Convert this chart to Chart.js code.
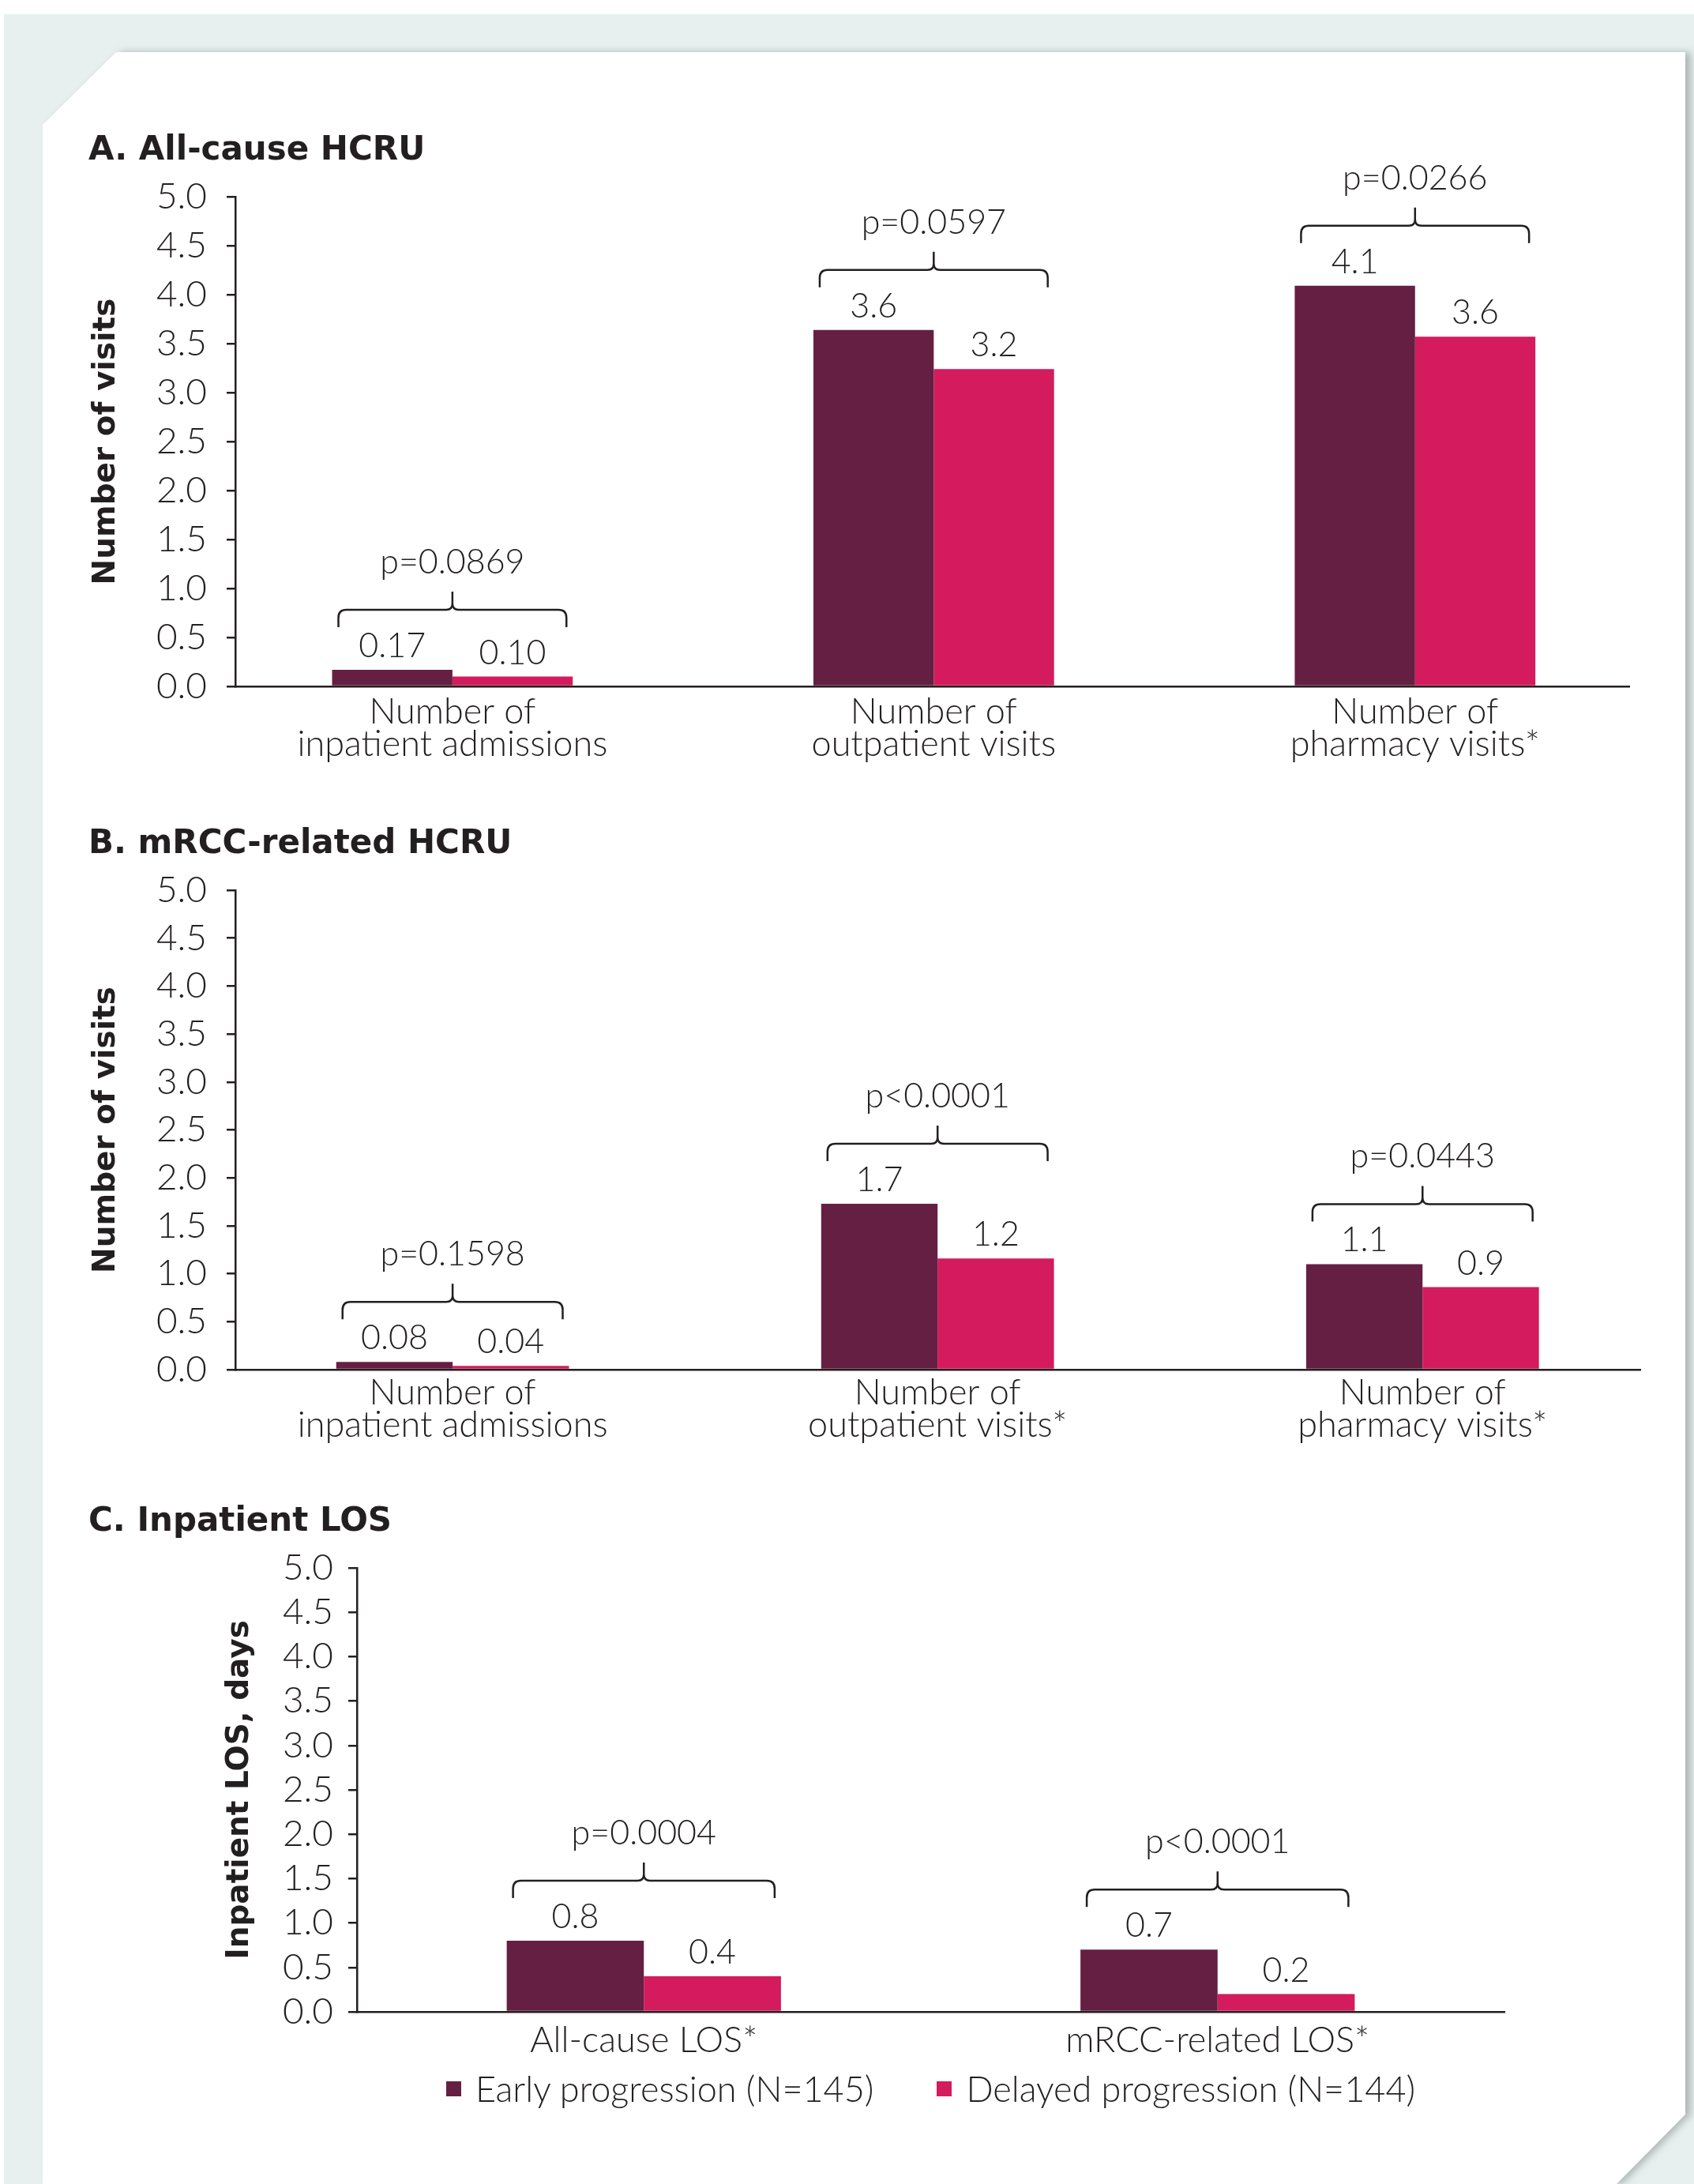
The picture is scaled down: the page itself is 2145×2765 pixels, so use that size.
<!DOCTYPE html>
<html lang="en">
<head>
<meta charset="UTF-8">
<title>HCRU and LOS by progression group</title>
<script src="https://cdn.jsdelivr.net/npm/chart.js"></script>
<style>
  html, body { margin: 0; padding: 0; background: #fff; }
  body { width: 2145px; height: 2765px; position: relative; overflow: hidden; }
  .backdrop { position: absolute; left: 5px; top: 18px; right: 0; bottom: 0; background: #e7f0ef; }
  .sheet-wrap { position: absolute; left: 0; top: 0; width: 2145px; height: 2765px;
    filter: drop-shadow(7px 0 5px rgba(70, 80, 80, 0.35)); }
  .sheet { position: absolute; left: 0; top: 0; width: 2145px; height: 2765px; background: #fff;
    clip-path: polygon(54px 158px, 147px 66px, 2134px 66px, 2134px 2677px, 2047px 2765px, 54px 2765px); }
  canvas { position: absolute; }
  .legend { position: absolute; left: 452px; width: 1453px; top: 2614px; height: 60px;
    display: flex; align-items: center; justify-content: center; gap: 80px;
    font-family: Lato, sans-serif; font-weight: 300; font-size: 45px; line-height: 60px; color: #231f20; }
  .legend span.item { display: flex; align-items: center; white-space: nowrap; }
  .legend span.box { display: inline-block; width: 19px; height: 19px; margin-right: 18px; }
</style>
</head>
<body>
  <div class="backdrop"></div>
  <div class="sheet-wrap"><div class="sheet"></div></div>

  <canvas id="chartA" width="1981" height="821" style="left:112px;top:168px"></canvas>
  <canvas id="chartB" width="1995" height="808" style="left:112px;top:1046px"></canvas>
  <canvas id="chartC" width="1823" height="713" style="left:112px;top:1904px"></canvas>
  <div class="legend" id="legendC"></div>

<script>
  // series
  const seriesNames = ['Early progression (N=145)', 'Delayed progression (N=144)'];

  // A. All-cause HCRU
  const catsA = [['Number of', 'inpatient admissions'], ['Number of', 'outpatient visits'], ['Number of', 'pharmacy visits*']];
  const earlyA = [0.17, 3.64, 4.09];
  const delayedA = [0.10, 3.24, 3.57];
  const decimalsA = [2, 1, 1];
  const pA = ['p=0.0869', 'p=0.0597', 'p=0.0266'];

  // B. mRCC-related HCRU
  const catsB = [['Number of', 'inpatient admissions'], ['Number of', 'outpatient visits*'], ['Number of', 'pharmacy visits*']];
  const earlyB = [0.08, 1.73, 1.10];
  const delayedB = [0.04, 1.16, 0.86];
  const decimalsB = [2, 1, 1];
  const pB = ['p=0.1598', 'p<0.0001', 'p=0.0443'];

  // C. Inpatient LOS
  const catsC = [['All-cause LOS*'], ['mRCC-related LOS*']];
  const earlyC = [0.8, 0.7];
  const delayedC = [0.4, 0.2];
  const decimalsC = [1, 1];
  const pC = ['p=0.0004', 'p<0.0001'];

  const yMax = 5;
  const yStep = 0.5;

  const ink = '#231f20';
  const maroon = '#651f42';
  const pink = '#d31b5d';
  const boldFamily = '"DejaVu Sans", sans-serif';

  Chart.defaults.font.family = 'Lato, sans-serif';
  Chart.defaults.color = ink;

  // value labels over the bars + brace with p-value over each pair
  const bracketPlugin = {
    id: 'brackets',
    afterDatasetsDraw(chart, args, opts) {
      const ctx = chart.ctx;
      const m0 = chart.getDatasetMeta(0);
      const m1 = chart.getDatasetMeta(1);
      ctx.save();
      ctx.fillStyle = ink;
      ctx.strokeStyle = ink;
      ctx.lineWidth = 2.5;
      ctx.font = '300 43px Lato';
      ctx.textAlign = 'center';
      ctx.textBaseline = 'alphabetic';
      m0.data.forEach((b0, i) => {
        const b1 = m1.data[i];
        [b0, b1].forEach((b, d) => {
          const v = chart.data.datasets[d].data[i].y;
          ctx.fillText(v.toFixed(opts.decimals[i]), b.x, b.y - 16);
        });
        const x0 = b0.x - b0.width / 2 + 8;
        const x1 = b1.x + b1.width / 2 - 8;
        const xc = (x0 + x1) / 2;
        const yh = Math.min(b0.y, b1.y) - 76;
        const drop = 22, peak = 23, r = 10, rc = 8;
        ctx.beginPath();
        ctx.moveTo(x0, yh + drop);
        ctx.lineTo(x0, yh + r);
        ctx.quadraticCurveTo(x0, yh, x0 + r, yh);
        ctx.lineTo(xc - rc, yh);
        ctx.quadraticCurveTo(xc, yh, xc, yh - rc);
        ctx.lineTo(xc, yh - peak);
        ctx.moveTo(xc, yh - rc);
        ctx.quadraticCurveTo(xc, yh, xc + rc, yh);
        ctx.lineTo(x1 - r, yh);
        ctx.quadraticCurveTo(x1, yh, x1, yh + r);
        ctx.lineTo(x1, yh + drop);
        ctx.stroke();
        ctx.fillText(opts.pLabels[i], xc, yh - peak - 23);
      });
      ctx.restore();
    }
  };

  // legend as html, built from the chart's own legend items
  const htmlLegendPlugin = {
    id: 'htmlLegend',
    afterUpdate(chart, args, opts) {
      if (!opts.containerID) return;
      const box = document.getElementById(opts.containerID);
      box.innerHTML = '';
      const items = chart.options.plugins.legend.labels.generateLabels(chart);
      items.forEach(item => {
        const el = document.createElement('span');
        el.className = 'item';
        const sw = document.createElement('span');
        sw.className = 'box';
        sw.style.background = item.fillStyle;
        const txt = document.createElement('span');
        txt.textContent = item.text;
        el.appendChild(sw);
        el.appendChild(txt);
        box.appendChild(el);
      });
    }
  };

  function buildChart(id, spec) {
    return new Chart(document.getElementById(id), {
      type: 'bar',
      data: {
        datasets: [
          { label: seriesNames[0], data: spec.early.map((v, i) => ({ x: i, y: v })), backgroundColor: maroon, borderWidth: 0 },
          { label: seriesNames[1], data: spec.delayed.map((v, i) => ({ x: i, y: v })), backgroundColor: pink, borderWidth: 0 }
        ]
      },
      options: {
        responsive: false,
        animation: false,
        devicePixelRatio: 1,
        categoryPercentage: spec.groupPct,
        barPercentage: 1,
        layout: { padding: { left: 0, right: 30, top: 0, bottom: 0 } },
        plugins: {
          title: {
            display: true, text: spec.title, align: 'start', color: ink,
            font: { family: boldFamily, size: 42, weight: 'bold', lineHeight: 1 },
            padding: { top: 2, bottom: 37 }
          },
          legend: { display: false },
          htmlLegend: { containerID: spec.legendID },
          tooltip: { enabled: false },
          brackets: { pLabels: spec.pLabels, decimals: spec.decimals }
        },
        scales: {
          x: {
            type: 'linear', min: spec.xMin, max: spec.xMax, offset: false, bounds: 'data',
            ticks: {
              autoSkip: false, maxRotation: 0, minRotation: 0,
              padding: spec.xPad, color: ink, font: { size: 45, weight: 300, lineHeight: 0.91 },
              callback: v => spec.cats[v] || ''
            },
            // one tick per category, at 0, 1, 2...
            afterBuildTicks: s => { s.ticks = spec.cats.map((c, i) => ({ value: i })); },
            grid: { display: false, drawTicks: false },
            border: { display: true, color: ink, width: 2.5 },
            afterFit: s => { s.height = spec.xHeight; }
          },
          y: {
            min: 0, max: yMax,
            ticks: { stepSize: yStep, autoSkip: false, padding: spec.yTickPad, color: ink, font: { size: 46, weight: 300 }, callback: v => v.toFixed(1) },
            grid: { drawOnChartArea: false, tickLength: 11, color: ink, lineWidth: 2.5 },
            border: { display: true, color: ink, width: 2.5 },
            title: {
              display: true, text: spec.yTitle, color: ink,
              font: { family: boldFamily, size: 39, weight: 'bold', lineHeight: 1 },
              padding: { top: spec.yTitlePad, bottom: 0 }
            },
            afterFit: s => { s.width = spec.yWidth; }
          }
        }
      },
      plugins: [bracketPlugin, htmlLegendPlugin]
    });
  }

  buildChart('chartA', {
    title: 'A. All-cause HCRU', yTitle: 'Number of visits',
    cats: catsA, early: earlyA, delayed: delayedA, decimals: decimalsA, pLabels: pA,
    xMin: -0.451, xMax: 2.445, groupPct: 0.5,
    yWidth: 186, yTitlePad: 3, yTickPad: 25, xPad: 12, xHeight: 120, legendID: null
  });

  buildChart('chartB', {
    title: 'B. mRCC-related HCRU', yTitle: 'Number of visits',
    cats: catsB, early: earlyB, delayed: delayedB, decimals: decimalsB, pLabels: pB,
    xMin: -0.448, xMax: 2.449, groupPct: 0.48,
    yWidth: 186, yTitlePad: 3, yTickPad: 25, xPad: 9, xHeight: 120, legendID: null
  });

  buildChart('chartC', {
    title: 'C. Inpatient LOS', yTitle: 'Inpatient LOS, days',
    cats: catsC, early: earlyC, delayed: delayedC, decimals: decimalsC, pLabels: pC,
    xMin: -0.5, xMax: 1.5, groupPct: 0.478,
    yWidth: 340, yTitlePad: 172, yTickPad: 19, xPad: 16, xHeight: 70, legendID: 'legendC'
  });
</script>
</body>
</html>
